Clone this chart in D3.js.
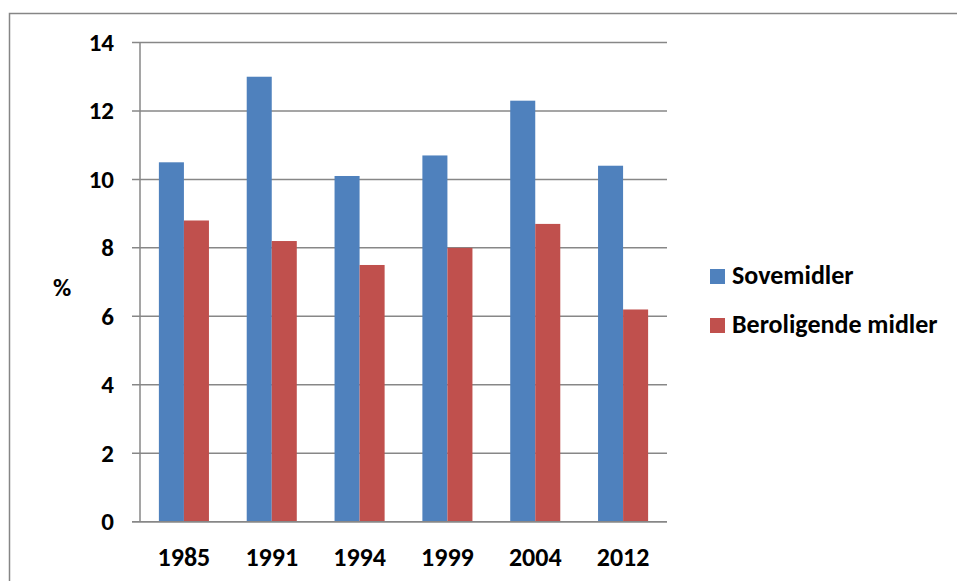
<!DOCTYPE html>
<html><head><meta charset="utf-8">
<script src="https://cdn.jsdelivr.net/npm/d3@7"></script>
<style>body{margin:0;background:#fff}svg{display:block}text{font-family:Carlito,Lato,"Open Sans",sans-serif;font-weight:bold;fill:#000}</style>
</head><body><svg id="c" width="957" height="581"></svg>
<script>
const years = ["1985","1991","1994","1999","2004","2012"];
const sovemidler = [10.5, 13.0, 10.1, 10.7, 12.3, 10.4];
const beroligende = [8.8, 8.2, 7.5, 8.0, 8.7, 6.2];
const seriesNames = ["Sovemidler", "Beroligende midler"];
const seriesColors = ["#4F81BD", "#C0504D"];
const yTicks = [0,2,4,6,8,10,12,14];

const svg = d3.select("#c");
svg.append("rect").attr("x",9.5).attr("y",13.5).attr("width",1000).attr("height",1000)
  .attr("fill","#fff").attr("stroke","#868686").attr("stroke-width",1.5);

const L=140, R=667, T=42.5, B=521.7;
const x = d3.scaleBand().domain(years).range([L,R]).paddingInner(0.43).paddingOuter(0.215);
const y = d3.scaleLinear().domain([0,14]).range([B,T]);
const xs = d3.scaleBand().domain([0,1]).range([0,x.bandwidth()]);

const grid = svg.append("g");
grid.selectAll("line").data(yTicks).join("line")
  .attr("x1",132).attr("x2",R).attr("y1",d=>y(d)).attr("y2",d=>y(d))
  .attr("stroke","#878787").attr("stroke-width",1.5);
svg.append("line").attr("x1",L).attr("x2",L).attr("y1",T).attr("y2",B)
  .attr("stroke","#878787").attr("stroke-width",1.5);

const data = [sovemidler, beroligende];
data.forEach((vals,si)=>{
  svg.append("g").selectAll("rect").data(vals).join("rect")
    .attr("x",(d,i)=>x(years[i])+xs(si)).attr("width",xs.bandwidth())
    .attr("y",d=>y(d)).attr("height",d=>B-y(d)).attr("fill",seriesColors[si]);
});
svg.append("line").attr("x1",132).attr("x2",R).attr("y1",B).attr("y2",B)
  .attr("stroke","#878787").attr("stroke-width",1.5);

svg.append("g").selectAll("text").data(yTicks).join("text")
  .attr("x",114).attr("y",d=>y(d)).attr("dy","0.34em").attr("text-anchor","end")
  .attr("font-size",25).text(d=>d);
svg.append("g").selectAll("text").data(years).join("text")
  .attr("x",d=>x(d)+x.bandwidth()/2).attr("y",566).attr("text-anchor","middle")
  .attr("font-size",26).text(d=>d);
svg.append("text").attr("x",62).attr("y",287).attr("dy","0.34em").attr("text-anchor","middle")
  .attr("font-size",25).text("%");

const lg = svg.append("g").selectAll("g").data(seriesNames).join("g")
  .attr("transform",(d,i)=>`translate(710,${269+i*49})`);
lg.append("rect").attr("width",15).attr("height",15).attr("fill",(d,i)=>seriesColors[i]);
lg.append("text").attr("x",22).attr("y",15).attr("font-size",26).text(d=>d);
</script></body></html>
